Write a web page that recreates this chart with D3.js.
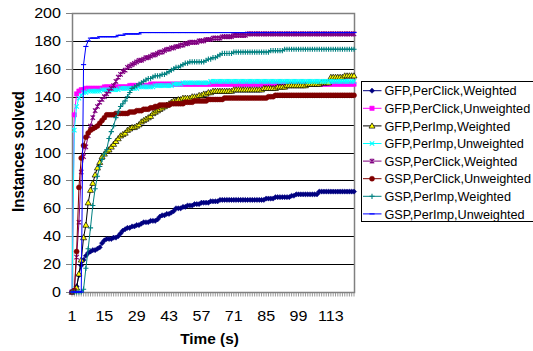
<!DOCTYPE html>
<html>
<head>
<meta charset="utf-8">
<script src="https://cdn.jsdelivr.net/npm/d3@7"></script>
<style>
  html, body { margin: 0; padding: 0; background: #fff; }
  svg { display: block; font-family: "Liberation Sans", Arial, sans-serif; }
</style>
</head>
<body>
<svg id="chart" width="533" height="351"></svg>
<script>
// categories: time steps 1..123
const times = d3.range(1, 124);
const xTickLabels = [1, 15, 29, 43, 57, 71, 85, 99, 113];
const yTicks = [0, 20, 40, 60, 80, 100, 120, 140, 160, 180, 200];

const seriesNames = [
  "GFP,PerClick,Weighted", "GFP,PerClick,Unweighted",
  "GFP,PerImp,Weighted", "GFP,PerImp,Unweighted",
  "GSP,PerClick,Weighted", "GSP,PerClick,Unweighted",
  "GSP,PerImp,Weighted", "GSP,PerImp,Unweighted"
];

const gfpClickW = [
  0,1,4,12,19,23,26,28,29,30, 30,31,32,35,37,38,38,38,39,39,
  40,42,44,45,46,46,47,47,48,48, 49,50,50,50,51,51,51,52,54,55,
  55,56,56,57,58,60,60,60,61,61, 62,62,62,63,63,63,64,64,64,64,
  65,65,65,65,66,66,66,66,66,66, 66,66,66,66,66,66,66,66,66,66,
  66,66,66,66,67,67,67,67,68,68, 68,68,68,68,68,69,69,70,70,70,
  70,70,70,70,70,70,70,72,72,72, 72,72,72,72,72,72,72,72,72,72,
  72,72,72
];
const gfpClickU = [
  0,127,142,144,145,145,146,146,146,146, 146,146,146,146,147,147,147,147,147,147,
  147,147,147,147,147,148,148,148,148,148, 148,148,148,148,149,149,149,149,149,149,
  149,149,149,149,149,149,149,149,149,149, 149,149,149,149,149,149,149,149,149,149,
  149,149,149,149,149,149,149,149,149,149, 149,149,149,149,149,149,149,149,149,149,
  149,149,149,149,149,149,149,149,149,149, 149,149,149,149,149,149,149,149,149,149,
  149,149,149,149,149,149,149,149,149,149, 149,149,149,149,149,149,149,149,149,149,
  149,149,149
];
const gfpImpW = [
  0,1,3,13,23,39,48,64,73,78, 84,89,93,97,99,101,102,104,106,108,
  110,112,113,114,116,117,118,118,119,120, 122,123,124,125,126,128,129,130,131,132,
  133,134,135,136,137,137,138,138,139,139, 139,139,140,140,140,141,141,142,142,143,
  143,144,144,144,144,144,144,144,144,144, 145,145,145,145,145,145,145,145,145,145,
  145,145,145,146,146,146,146,146,146,147, 147,147,147,148,148,148,148,148,148,148,
  148,148,149,149,149,149,149,149,150,150, 150,150,154,154,154,154,154,154,155,155,
  155,155,155
];
const gfpImpU = [
  0,116,133,139,141,143,143,144,144,144, 144,144,144,145,145,145,145,145,145,145,
  145,146,146,146,146,146,146,146,146,147, 147,147,147,147,147,147,148,148,148,148,
  148,148,148,148,149,149,149,149,150,150, 150,150,150,150,150,150,150,150,150,150,
  151,151,151,151,151,151,151,151,151,151, 151,151,151,151,151,151,151,151,151,151,
  151,151,151,151,151,151,151,151,151,151, 151,151,151,151,151,151,151,151,151,151,
  151,151,151,151,151,151,151,151,151,151, 151,151,151,151,151,151,151,151,151,151,
  151,151,151
];
const gspClickW = [
  0,1,25,50,86,97,104,112,119,125, 130,133,136,138,140,142,144,146,148,151,
  154,156,158,159,161,162,163,164,165,166, 166,167,168,168,169,170,170,171,172,172,
  173,174,174,175,175,176,176,177,177,178, 178,179,179,179,179,180,180,180,181,181,
  181,182,182,182,182,183,183,183,183,183, 184,184,184,184,184,184,185,185,185,185,
  185,185,185,185,185,185,185,185,185,185, 185,185,185,185,185,185,185,185,185,185,
  185,185,185,185,185,185,185,185,185,185, 185,185,185,185,185,185,185,185,185,185,
  185,185,185
];
const gspClickU = [
  0,1,29,75,96,105,111,114,116,117, 118,119,121,123,125,127,127,127,127,128,
  128,128,128,128,128,129,129,129,130,130, 130,131,131,131,132,132,133,133,134,134,
  134,134,134,135,135,135,135,135,135,136, 136,136,136,137,137,137,137,137,137,138,
  138,138,138,138,138,138,139,139,139,139, 139,139,139,139,139,139,139,139,139,139,
  139,139,139,139,139,140,140,140,141,141, 141,141,141,141,141,141,141,141,141,141,
  141,141,141,141,141,141,141,141,141,141, 141,141,141,141,141,141,141,141,141,141,
  141,141,141
];
const gspImpW = [
  0,0,0,0,0,2,17,31,46,62, 74,83,90,95,99,102,110,115,119,125,
  129,133,135,137,140,143,146,147,148,149, 150,151,152,153,153,154,155,155,155,156,
  156,157,158,159,160,161,161,162,163,164, 164,165,165,165,165,165,165,165,166,167,
  167,168,168,169,170,171,171,171,171,171, 172,172,172,172,172,172,172,172,172,172,
  172,172,172,172,172,172,173,173,173,173, 173,173,174,174,174,174,174,174,174,174,
  174,174,174,174,174,174,174,174,174,174, 174,174,174,174,174,174,174,174,174,174,
  174,174,174
];
const gspImpU = [
  0,0,0,0,0,163,176,180,182,182, 182,182,183,183,183,183,183,183,183,183,
  184,184,184,185,185,185,185,185,185,185, 186,186,186,186,186,186,186,186,186,186,
  186,186,186,186,186,186,186,186,186,186, 186,186,186,186,186,186,186,186,186,186,
  186,186,186,186,186,186,186,186,186,186, 186,186,186,186,186,186,186,186,186,186,
  186,186,186,186,186,186,186,186,186,186, 186,186,186,186,186,186,186,186,186,186,
  186,186,186,186,186,186,186,186,186,186, 186,186,186,186,186,186,186,186,186,186,
  186,186,186
];

const seriesValues = [gfpClickW, gfpClickU, gfpImpW, gfpImpU, gspClickW, gspClickU, gspImpW, gspImpU];

// style per series: line colour, marker kind, marker fill/stroke
const styles = [
  { line: "#000080", mark: "diamond", fill: "#000080", stroke: "#000080" },
  { line: "#FF00FF", mark: "square", fill: "#FF00FF", stroke: "#FF00FF" },
  { line: "#000000", mark: "triangle", fill: "#FFFF00", stroke: "#000000" },
  { line: "#00FFFF", mark: "x", fill: "none", stroke: "#00FFFF" },
  { line: "#800080", mark: "star", fill: "none", stroke: "#800080" },
  { line: "#800000", mark: "circle", fill: "#800000", stroke: "#800000" },
  { line: "#008080", mark: "plus", fill: "none", stroke: "#008080" },
  { line: "#0000FF", mark: "dash", fill: "none", stroke: "#0000FF" }
];

const markPaths = {
  diamond: "M0,-2.6L2.6,0L0,2.6L-2.6,0Z",
  square: "M-2.2,-2.2H2.2V2.2H-2.2Z",
  triangle: "M0,-3L3,2.2H-3Z",
  x: "M-2.2,-2.2L2.2,2.2M2.2,-2.2L-2.2,2.2",
  star: "M-2.2,-2.2L2.2,2.2M2.2,-2.2L-2.2,2.2M0,-2.6V2.6",
  circle: "M2.5,0A2.5,2.5 0 1,1 -2.5,0A2.5,2.5 0 1,1 2.5,0Z",
  plus: "M-2.6,0H2.6M0,-2.6V2.6",
  dash: "M-2.6,0H2.6"
};

const svg = d3.select("#chart");
svg.append("rect").attr("width", 533).attr("height", 351).attr("fill", "#fff");

const plotL = 72, plotR = 354, plotT = 13, plotB = 292;
const x = d3.scalePoint().domain(times).range([plotL, plotR]);
const y = d3.scaleLinear().domain([0, 200]).range([plotB, plotT]);

// gridlines
svg.append("g").selectAll("line")
  .data(yTicks.filter(v => v > 0 && v < 200))
  .join("line")
  .attr("x1", plotL).attr("x2", plotR)
  .attr("y1", d => Math.round(y(d)) + 0.5).attr("y2", d => Math.round(y(d)) + 0.5)
  .attr("stroke", "#000").attr("stroke-width", 1);

// frame
svg.append("rect")
  .attr("x", plotL + 0.5).attr("y", plotT + 0.5)
  .attr("width", plotR - plotL).attr("height", plotB - plotT)
  .attr("fill", "none").attr("stroke", "#808080").attr("stroke-width", 1.5);

// y ticks and labels
const yAxis = svg.append("g");
yTicks.forEach(v => {
  const yy = Math.round(y(v)) + 0.5;
  yAxis.append("line").attr("x1", 66).attr("x2", plotL).attr("y1", yy).attr("y2", yy)
    .attr("stroke", "#808080");
  yAxis.append("g").attr("transform", `translate(61,${y(v) + 5}) scale(1.15,1)`)
    .append("text").attr("text-anchor", "end").attr("font-size", 14).attr("fill", "#000")
    .text(v);
});

// x ticks at every category, labels every 14
const xAxis = svg.append("g");
xAxis.selectAll("line").data(times).join("line")
  .attr("x1", d => x(d)).attr("x2", d => x(d))
  .attr("y1", plotB).attr("y2", plotB + 4.5)
  .attr("stroke", "#808080").attr("stroke-width", 0.8);
xTickLabels.forEach(t => {
  xAxis.append("g").attr("transform", `translate(${x(t)},320.5) scale(1.15,1)`)
    .append("text").attr("text-anchor", "middle").attr("font-size", 14).attr("fill", "#000")
    .text(t);
});

// axis titles
svg.append("g").attr("transform", "translate(209.5,343.5) scale(1.1,1)")
  .append("text").attr("text-anchor", "middle").attr("font-size", 14)
  .attr("font-weight", "bold").text("Time (s)");
svg.append("g").attr("transform", "translate(24,151.5) scale(1.1,1) rotate(-90)")
  .append("text").attr("text-anchor", "middle").attr("font-size", 15)
  .attr("font-weight", "bold").text("Instances solved");

// series
const line = d3.line().x((d, i) => x(times[i])).y(d => y(d));
seriesValues.forEach((vals, k) => {
  const st = styles[k];
  const g = svg.append("g");
  g.append("path").attr("d", line(vals)).attr("fill", "none")
    .attr("stroke", st.line).attr("stroke-width", 1);
  g.selectAll("path.m").data(vals).join("path").attr("class", "m")
    .attr("transform", (d, i) => `translate(${x(times[i])},${y(d)})`)
    .attr("d", markPaths[st.mark])
    .attr("fill", st.fill).attr("stroke", st.stroke)
    .attr("stroke-width", st.mark === "triangle" ? 0.7 : (st.fill === "none" ? 1.1 : 0.5));
});

// legend
const lg = svg.append("g");
lg.append("rect").attr("x", 361.5).attr("y", 81.5).attr("width", 200).attr("height", 140)
  .attr("fill", "#fff").attr("stroke", "#000");
seriesNames.forEach((name, k) => {
  const st = styles[k];
  const yy = 90.7 + k * 17.6;
  lg.append("line").attr("x1", 363).attr("x2", 381.5).attr("y1", yy).attr("y2", yy)
    .attr("stroke", st.line);
  lg.append("path").attr("transform", `translate(372,${yy})`).attr("d", markPaths[st.mark])
    .attr("fill", st.fill).attr("stroke", st.stroke)
    .attr("stroke-width", st.mark === "triangle" ? 0.7 : (st.fill === "none" ? 1.1 : 0.5));
  lg.append("text").attr("x", 384.5).attr("y", yy + 4.6).attr("font-size", 12.7)
    .attr("fill", "#000").text(name);
});
</script>
</body>
</html>
